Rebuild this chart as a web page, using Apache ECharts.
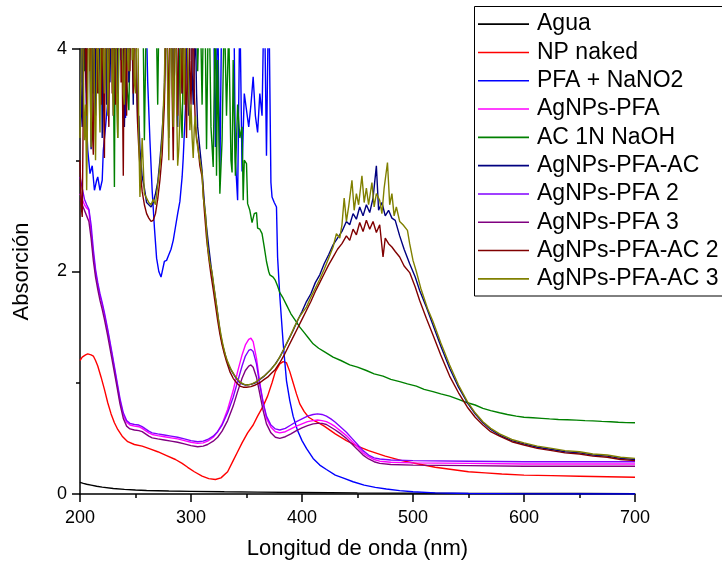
<!DOCTYPE html>
<html><head><meta charset="utf-8">
<script src="https://cdn.jsdelivr.net/npm/echarts@6/dist/echarts.min.js"></script>
<style>html,body{margin:0;padding:0;background:#fff}#c{width:722px;height:565px}</style>
</head><body><div id="c"></div>
<script>
// [wavelength (nm), absorbance]
const agua = [[200,0.105],[203,0.095],[206,0.088],[210,0.08],[215,0.07],[220,0.062],[230,0.05],[240,0.042],[250,0.036],[260,0.032],[280,0.027],[300,0.024],[330,0.02],[360,0.017],[400,0.013],[450,0.01],[500,0.008],[550,0.006],[600,0.005],[650,0.004],[700,0.003]];
const npNaked = [[200,1.2],[202,1.23],[205,1.25],[207,1.26],[210,1.25],[212,1.24],[214,1.2],[216,1.15],[219,1.05],[222,0.94],[225,0.82],[228,0.72],[231,0.64],[234,0.58],[238,0.52],[243,0.47],[249,0.445],[256,0.43],[263,0.405],[270,0.38],[278,0.345],[286,0.31],[292,0.275],[297,0.24],[303,0.2],[310,0.16],[316,0.138],[322,0.13],[327,0.145],[333,0.2],[338,0.3],[342,0.38],[346,0.46],[351,0.55],[356,0.62],[360,0.7],[365,0.79],[369,0.88],[373,1.0],[376,1.1],[380,1.17],[383,1.19],[386,1.18],[389,1.1],[392,1.0],[395,0.9],[398,0.81],[402,0.74],[406,0.69],[410,0.665],[415,0.64],[420,0.61],[430,0.54],[440,0.48],[450,0.43],[460,0.39],[475,0.34],[490,0.3],[505,0.27],[520,0.24],[535,0.22],[550,0.2],[565,0.19],[580,0.18],[600,0.17],[625,0.165],[650,0.16],[675,0.155],[700,0.15]];
const pfaNano2 = [[200,4.7],[202,3.7],[204,4.8],[206,3.3],[207,3.09],[209,2.88],[211,2.95],[213,2.73],[215,2.82],[216,2.85],[218,2.73],[220,2.82],[221,3.09],[223,3.3],[225,3.53],[227,4.6],[229,5],[231,4.3],[233,4.9],[235,4.5],[237,5],[239,4.6],[241,3.38],[243,4.8],[245,5],[247,4.4],[249,5],[251,4.7],[253,4.9],[255,4.5],[257,5],[259,4.6],[261,3.7],[263,3.18],[265,2.73],[267,2.4],[269,2.12],[271,2.0],[273,1.95],[274,1.96],[276,2.09],[278,2.1],[280,2.15],[282,2.2],[284,2.28],[286,2.4],[288,2.52],[290,2.63],[292,2.85],[293,3.02],[295,3.47],[297,4.6],[299,5],[302,4.7],[305,5],[308,4.5],[311,4.9],[314,4.6],[317,5],[320,4.6],[322,3.12],[324,4.4],[326,2.85],[328,4.7],[330,5],[332,4.5],[334,4.9],[336,4.3],[338,5],[340,3.0],[342,2.64],[344,4.4],[346,2.9],[348,3.6],[350,3.45],[352,3.3],[354,3.5],[356,3.75],[358,3.4],[360,3.25],[362,3.6],[364,3.4],[366,4.6],[368,3.04],[370,4.6],[372,2.8],[373,2.67],[375,2.62],[377,2.58],[378,2.13],[380,1.78],[383,1.36],[386,1.02],[389,0.84],[392,0.7],[396,0.57],[400,0.48],[404,0.41],[410,0.32],[416,0.26],[422,0.22],[430,0.17],[438,0.14],[446,0.11],[456,0.08],[466,0.06],[476,0.045],[488,0.03],[500,0.02],[520,0.01],[550,0.004],[600,0.001],[650,0],[700,0]];
const agnpsPfa = [[200,2.7],[202,2.65],[204,2.6],[206,2.57],[208,2.55],[210,2.35],[212,2.15],[214,1.99],[216,1.88],[218,1.78],[220,1.7],[222,1.61],[225,1.46],[229,1.24],[233,1.01],[236,0.84],[239,0.71],[242,0.645],[245,0.62],[249,0.61],[253,0.605],[256,0.59],[259,0.57],[262,0.55],[265,0.535],[270,0.525],[276,0.515],[282,0.505],[288,0.495],[294,0.48],[300,0.465],[306,0.455],[311,0.46],[315,0.475],[320,0.51],[324,0.56],[328,0.63],[333,0.76],[338,0.93],[342,1.1],[346,1.25],[349,1.34],[352,1.39],[354,1.4],[356,1.37],[359,1.22],[362,1.0],[365,0.82],[368,0.68],[372,0.6],[376,0.56],[380,0.55],[385,0.56],[390,0.585],[395,0.61],[400,0.63],[405,0.65],[410,0.66],[414,0.665],[418,0.66],[422,0.65],[426,0.63],[430,0.605],[435,0.565],[440,0.525],[445,0.475],[450,0.425],[455,0.37],[460,0.335],[465,0.31],[470,0.295],[480,0.285],[500,0.28],[550,0.275],[600,0.27],[650,0.27],[700,0.27]];
const ac1nNaoh = [[200,4.6],[202,4.9],[204,3.8],[206,4.7],[208,5],[210,4.4],[212,3.6],[214,4.8],[216,4.3],[218,5],[220,3.75],[222,4.6],[224,5],[226,4.5],[228,4.9],[230,3.9],[231,2.76],[232,4.7],[234,3.2],[236,4.8],[238,5],[240,4.4],[242,3.7],[244,3.45],[246,4.6],[248,5],[250,4.3],[252,4.8],[254,4.2],[256,5],[258,3.18],[260,4.5],[262,5],[264,4.6],[266,4.9],[268,4.7],[270,3.5],[272,5],[274,4.8],[276,5],[278,4.5],[280,4.9],[282,4.6],[284,5],[286,4.4],[288,4.8],[290,3.6],[292,3.2],[294,4.7],[296,5],[298,4.5],[300,4.9],[302,4.2],[304,5],[306,3.8],[308,4.6],[310,3.5],[312,4.9],[314,3.1],[316,4.7],[318,3.3],[320,2.94],[322,4.5],[323,2.86],[324,3.9],[326,2.7],[328,3.18],[330,4.4],[332,3.4],[334,4.2],[336,3.0],[337,2.89],[338,3.9],[340,2.86],[342,3.5],[344,3.2],[346,3.3],[347,2.64],[348,3.0],[350,2.97],[351,2.61],[353,2.55],[355,2.44],[357,2.52],[359,2.53],[360,2.39],[362,2.38],[364,2.34],[366,2.22],[368,2.09],[370,2.0],[371,1.97],[374,1.95],[376,1.92],[378,1.87],[380,1.81],[383,1.76],[386,1.7],[390,1.62],[394,1.56],[398,1.5],[402,1.45],[406,1.4],[410,1.35],[415,1.31],[420,1.28],[428,1.23],[435,1.2],[443,1.16],[450,1.14],[458,1.11],[465,1.08],[473,1.06],[480,1.03],[488,1.01],[495,0.99],[503,0.97],[510,0.94],[518,0.92],[525,0.9],[533,0.88],[541,0.85],[549,0.82],[556,0.8],[563,0.77],[570,0.75],[578,0.73],[585,0.715],[593,0.7],[600,0.69],[608,0.685],[616,0.68],[623,0.675],[631,0.67],[639,0.668],[647,0.664],[655,0.66],[662,0.657],[670,0.653],[678,0.65],[685,0.645],[692,0.642],[700,0.64]];
const agnpsPfaAc = [[200,4.8],[201,3.5],[202,3.3],[203,4.6],[204,4.9],[205,3.8],[206,3.6],[207,4.5],[208,5],[209,3.9],[210,3.1],[211,3.7],[212,4.7],[213,4.2],[214,3.4],[215,4.6],[216,5],[217,3.6],[218,4.2],[219,4.8],[220,3.2],[221,3.9],[222,4.8],[223,4.4],[224,3.5],[225,4.7],[226,5],[227,3.7],[228,4.3],[229,4.9],[230,3.4],[231,4.1],[232,5],[233,4.5],[234,3.6],[235,4.3],[236,4.6],[237,3.9],[238,5],[239,4.4],[240,3.3],[241,3.8],[242,4.5],[243,4.9],[244,3.7],[245,4.2],[246,4.9],[247,4.1],[248,3.5],[249,4.6],[250,4.4],[251,3.8],[252,3.3],[253,3.4],[254,3.1],[256,2.85],[258,2.75],[260,2.62],[262,2.6],[264,2.58],[266,2.62],[268,2.7],[270,2.8],[272,3.0],[274,3.25],[276,3.6],[277,4.2],[278,4.6],[279,3.7],[280,3.2],[281,4.1],[282,4.8],[283,4.0],[284,3.5],[285,4.4],[286,5],[287,3.8],[288,3.3],[289,4.2],[290,4.7],[291,3.9],[292,3.6],[293,4.5],[294,5],[295,4.1],[296,4.4],[297,3.7],[298,3.4],[299,4.3],[300,4.9],[301,3.8],[302,3.5],[303,3.9],[304,4.2],[305,3.6],[306,3.3],[307,3.2],[308,3.1],[310,2.9],[312,2.62],[314,2.4],[316,2.22],[318,2.05],[320,1.9],[322,1.76],[324,1.62],[326,1.47],[328,1.36],[330,1.28],[332,1.21],[334,1.15],[337,1.1],[340,1.05],[343,1.01],[346,0.99],[349,0.98],[354,0.985],[358,1.0],[362,1.03],[366,1.06],[369,1.09],[372,1.12],[376,1.17],[380,1.23],[384,1.31],[388,1.39],[392,1.47],[396,1.56],[400,1.64],[404,1.73],[408,1.8],[412,1.9],[416,1.97],[420,2.07],[424,2.15],[428,2.24],[432,2.3],[436,2.36],[440,2.45],[443,2.42],[446,2.52],[449,2.47],[452,2.58],[455,2.5],[458,2.6],[461,2.53],[464,2.66],[467,2.95],[469,2.55],[472,2.62],[475,2.5],[478,2.55],[481,2.48],[484,2.46],[488,2.32],[492,2.2],[497,2.07],[502,1.95],[506,1.83],[512,1.68],[518,1.52],[525,1.33],[533,1.13],[541,0.96],[549,0.82],[556,0.72],[563,0.64],[570,0.58],[578,0.53],[589,0.48],[600,0.45],[612,0.42],[625,0.4],[637,0.38],[650,0.37],[662,0.35],[675,0.34],[687,0.32],[700,0.31]];
const agnpsPfa2 = [[200,2.85],[202,2.75],[204,2.65],[206,2.6],[208,2.56],[210,2.42],[212,2.2],[214,2.02],[216,1.9],[218,1.8],[220,1.72],[222,1.63],[225,1.48],[229,1.26],[233,1.03],[236,0.86],[239,0.73],[242,0.66],[245,0.635],[249,0.625],[253,0.62],[256,0.605],[259,0.585],[262,0.565],[265,0.55],[270,0.54],[276,0.53],[282,0.52],[288,0.51],[294,0.495],[300,0.48],[306,0.47],[311,0.475],[315,0.49],[320,0.52],[324,0.56],[328,0.62],[333,0.73],[338,0.87],[342,1.01],[346,1.15],[349,1.24],[352,1.29],[354,1.3],[356,1.28],[359,1.17],[362,0.98],[365,0.82],[368,0.7],[372,0.62],[376,0.585],[380,0.575],[385,0.59],[390,0.62],[395,0.65],[400,0.675],[405,0.7],[410,0.715],[414,0.72],[418,0.715],[422,0.7],[426,0.675],[430,0.645],[435,0.6],[440,0.555],[445,0.5],[450,0.445],[455,0.39],[460,0.35],[465,0.325],[470,0.315],[480,0.305],[500,0.3],[550,0.295],[600,0.29],[650,0.29],[700,0.29]];
const agnpsPfa3 = [[200,2.65],[202,2.6],[204,2.55],[206,2.5],[208,2.45],[210,2.3],[212,2.1],[214,1.95],[216,1.84],[218,1.74],[220,1.66],[222,1.57],[225,1.42],[229,1.2],[233,0.98],[236,0.81],[239,0.68],[242,0.61],[245,0.585],[249,0.575],[253,0.57],[256,0.56],[259,0.54],[262,0.52],[265,0.505],[270,0.495],[276,0.485],[282,0.475],[288,0.465],[294,0.45],[300,0.435],[306,0.425],[311,0.43],[315,0.445],[320,0.475],[324,0.51],[328,0.565],[333,0.66],[338,0.79],[342,0.92],[346,1.04],[349,1.11],[352,1.15],[354,1.16],[356,1.14],[359,1.05],[362,0.9],[365,0.75],[368,0.63],[372,0.55],[376,0.51],[380,0.5],[385,0.515],[390,0.54],[395,0.57],[400,0.595],[405,0.615],[410,0.63],[414,0.635],[418,0.635],[422,0.625],[426,0.6],[430,0.575],[435,0.54],[440,0.5],[445,0.45],[450,0.4],[455,0.35],[460,0.315],[465,0.29],[470,0.275],[480,0.265],[500,0.26],[550,0.255],[600,0.25],[650,0.25],[700,0.25]];
const agnpsPfaAc2 = [[200,3.0],[201,2.6],[202,2.49],[203,3.5],[204,4.6],[205,4.1],[206,3.4],[207,4.9],[208,5],[209,3.8],[210,4.2],[211,3.3],[212,3.05],[213,4.3],[214,4.8],[215,3.9],[216,3.6],[217,4.7],[218,5],[219,3.5],[220,4.4],[221,3.7],[222,3.02],[223,4.5],[224,4.9],[225,3.8],[226,3.3],[227,4.6],[228,4.7],[229,3.6],[230,5],[231,4.2],[232,3.5],[233,3.9],[234,4.6],[235,4.8],[236,5],[237,3.7],[238,3.9],[239,2.86],[240,4.5],[241,3.9],[242,3.4],[243,4.4],[244,4.9],[245,3.8],[246,5],[247,4.3],[248,3.6],[249,4.1],[250,4.6],[251,3.7],[252,3.3],[253,3.1],[254,2.95],[256,2.72],[258,2.6],[260,2.52],[262,2.48],[264,2.45],[266,2.46],[268,2.52],[270,2.65],[272,2.82],[274,3.05],[276,3.5],[277,4.0],[278,4.7],[279,3.9],[280,3.3],[281,4.3],[282,5],[283,3.6],[284,3.0],[285,3.9],[286,4.6],[287,3.8],[288,3.4],[289,4.4],[290,5],[291,4.0],[292,3.6],[293,4.2],[294,4.8],[295,3.7],[296,3.2],[297,4.1],[298,5],[299,3.9],[300,3.5],[301,4.0],[302,4.4],[303,3.6],[304,3.3],[305,3.2],[306,3.15],[307,3.05],[308,2.95],[310,2.85],[312,2.55],[314,2.3],[316,2.12],[318,1.97],[320,1.84],[322,1.7],[324,1.56],[326,1.44],[328,1.34],[330,1.26],[332,1.19],[335,1.1],[338,1.04],[341,1.0],[344,0.97],[347,0.96],[350,0.96],[354,0.965],[358,0.98],[362,1.0],[366,1.03],[369,1.05],[372,1.08],[376,1.12],[380,1.18],[384,1.25],[388,1.33],[392,1.41],[396,1.49],[400,1.57],[404,1.65],[408,1.73],[412,1.82],[416,1.9],[420,1.98],[424,2.06],[428,2.13],[432,2.2],[436,2.25],[440,2.32],[443,2.28],[446,2.38],[449,2.33],[452,2.44],[455,2.36],[458,2.46],[461,2.38],[464,2.45],[467,2.35],[470,2.42],[473,2.13],[475,2.3],[478,2.25],[481,2.22],[484,2.18],[488,2.13],[492,2.05],[497,1.99],[502,1.86],[506,1.74],[512,1.58],[518,1.43],[525,1.25],[533,1.06],[541,0.91],[549,0.78],[556,0.69],[563,0.62],[570,0.56],[578,0.52],[589,0.47],[600,0.44],[612,0.41],[625,0.39],[637,0.37],[650,0.36],[662,0.34],[675,0.33],[687,0.31],[700,0.3]];
const agnpsPfaAc3 = [[200,3.2],[201,3.9],[202,4.6],[203,3.7],[204,3.18],[205,3.5],[206,2.73],[207,3.6],[208,4.7],[209,3.9],[210,3.12],[211,4.2],[212,4.9],[213,3.5],[214,3.0],[215,3.8],[216,4.5],[217,3.7],[218,3.25],[219,4.4],[220,5],[221,3.9],[222,3.6],[223,4.3],[224,4.7],[225,3.4],[226,3.9],[227,4.6],[228,5],[229,3.8],[230,3.4],[231,4.5],[232,4.8],[233,3.6],[234,3.2],[235,4.2],[236,5],[237,4.4],[238,4.1],[239,3.6],[240,3.5],[241,4.3],[242,4.7],[243,3.9],[244,3.8],[245,4.6],[246,5],[247,3.9],[248,4.3],[249,3.7],[250,3.6],[251,4.1],[252,4.5],[253,3.2],[254,2.67],[256,3.2],[258,2.7],[260,2.66],[262,2.62],[264,2.6],[266,2.65],[268,2.6],[270,2.78],[272,2.95],[274,3.2],[276,3.7],[277,4.3],[278,4.8],[279,3.6],[280,3.0],[281,3.9],[282,4.6],[283,3.8],[284,3.3],[285,4.2],[286,5],[287,3.5],[288,2.95],[289,3.1],[290,3.38],[291,4.1],[292,4.7],[293,3.9],[294,3.5],[295,4.4],[296,5],[297,4.0],[298,3.6],[299,3.27],[300,3.5],[301,3.2],[302,3.02],[303,3.3],[304,3.4],[305,3.18],[306,3.12],[307,3.05],[308,3.0],[310,2.88],[311,2.67],[313,2.52],[315,2.22],[317,2.08],[319,1.99],[321,1.84],[323,1.7],[325,1.55],[327,1.43],[329,1.33],[331,1.25],[333,1.19],[336,1.12],[339,1.07],[342,1.03],[345,1.0],[348,0.985],[351,0.98],[355,0.99],[359,1.01],[363,1.04],[367,1.07],[370,1.1],[373,1.13],[377,1.18],[381,1.25],[385,1.33],[389,1.41],[393,1.5],[397,1.58],[401,1.64],[404,1.68],[408,1.77],[412,1.85],[416,1.93],[420,2.02],[424,2.12],[428,2.22],[431,2.34],[434,2.3],[436,2.42],[438,2.66],[440,2.45],[442,2.58],[445,2.82],[447,2.55],[449,2.7],[451,2.6],[454,2.86],[456,2.62],[458,2.75],[460,2.6],[463,2.8],[465,2.58],[467,2.7],[470,2.64],[472,2.52],[474,2.75],[477,2.98],[479,2.6],[481,2.7],[483,2.5],[485,2.58],[488,2.45],[491,2.42],[495,2.37],[497,2.25],[500,2.1],[503,2.0],[507,1.85],[513,1.67],[518,1.55],[525,1.36],[533,1.16],[541,0.98],[549,0.83],[556,0.73],[563,0.65],[570,0.59],[578,0.54],[589,0.49],[600,0.46],[612,0.43],[625,0.41],[637,0.39],[650,0.38],[662,0.36],[675,0.35],[687,0.33],[700,0.32]];

const seriesNames = ['Agua','NP naked','PFA + NaNO2','AgNPs-PFA','AC 1N NaOH','AgNPs-PFA-AC','AgNPs-PFA 2','AgNPs-PFA 3','AgNPs-PFA-AC 2','AgNPs-PFA-AC 3'];
const seriesData = [agua, npNaked, pfaNano2, agnpsPfa, ac1nNaoh, agnpsPfaAc, agnpsPfa2, agnpsPfa3, agnpsPfaAc2, agnpsPfaAc3];
const seriesColors = ['#000000','#ff0000','#0000ff','#ff00ff','#008000','#000080','#8000ff','#800080','#800000','#808000'];
const xTicks = [200, 300, 400, 500, 600, 700];
const yTicks = [0, 2, 4];

const FONT = 'Liberation Sans, Arial, sans-serif';
const chart = echarts.init(document.getElementById('c'), null, {renderer: 'canvas'});
chart.setOption({
  animation: false,
  backgroundColor: '#fff',
  grid: {left: 80, right: 87, top: 49, bottom: 70, containLabel: false},
  xAxis: {
    type: 'value', min: xTicks[0], max: xTicks[xTicks.length - 1], interval: 100,
    name: 'Longitud de onda (nm)', nameLocation: 'middle', nameGap: 44,
    nameTextStyle: {fontFamily: FONT, fontSize: 22, color: '#000'},
    axisLine: {show: true, onZero: false, lineStyle: {color: '#000', width: 1.5}},
    axisTick: {show: true, inside: false, length: 8, lineStyle: {color: '#000', width: 1.5}},
    minorTick: {show: true, splitNumber: 2, length: 4, lineStyle: {color: '#000', width: 1.5}},
    axisLabel: {fontFamily: FONT, fontSize: 18, color: '#000', margin: 15},
    splitLine: {show: false}
  },
  yAxis: {
    type: 'value', min: yTicks[0], max: yTicks[yTicks.length - 1], interval: 2,
    name: 'Absorción', nameLocation: 'middle', nameGap: 47, nameRotate: 90,
    nameTextStyle: {fontFamily: FONT, fontSize: 22, color: '#000'},
    axisLine: {show: true, onZero: false, lineStyle: {color: '#000', width: 1.5}},
    axisTick: {show: true, inside: false, length: 8, lineStyle: {color: '#000', width: 1.5}},
    minorTick: {show: true, splitNumber: 2, length: 4, lineStyle: {color: '#000', width: 1.5}},
    axisLabel: {fontFamily: FONT, fontSize: 18, color: '#000', margin: 13},
    splitLine: {show: false}
  },
  legend: {
    orient: 'vertical', left: 478, top: 10, padding: 0,
    icon: 'rect', itemWidth: 51, itemHeight: 1.6, itemGap: 0,
    selectedMode: false,
    data: seriesNames,
    textStyle: {fontFamily: FONT, fontSize: 23, color: '#000', lineHeight: 28.3, padding: [0, 0, 0, 3]}
  },
  graphic: [{
    type: 'rect', z: -1,
    shape: {x: 474.5, y: 6.5, width: 260, height: 289.5},
    style: {fill: '#fff', stroke: '#000', lineWidth: 1}
  }],
  series: seriesNames.map((n, i) => ({
    name: n, type: 'line', data: seriesData[i], symbol: 'none', showSymbol: false,
    clip: true, smooth: false, color: seriesColors[i],
    lineStyle: {color: seriesColors[i], width: 1.4}
  }))
});
</script></body></html>
